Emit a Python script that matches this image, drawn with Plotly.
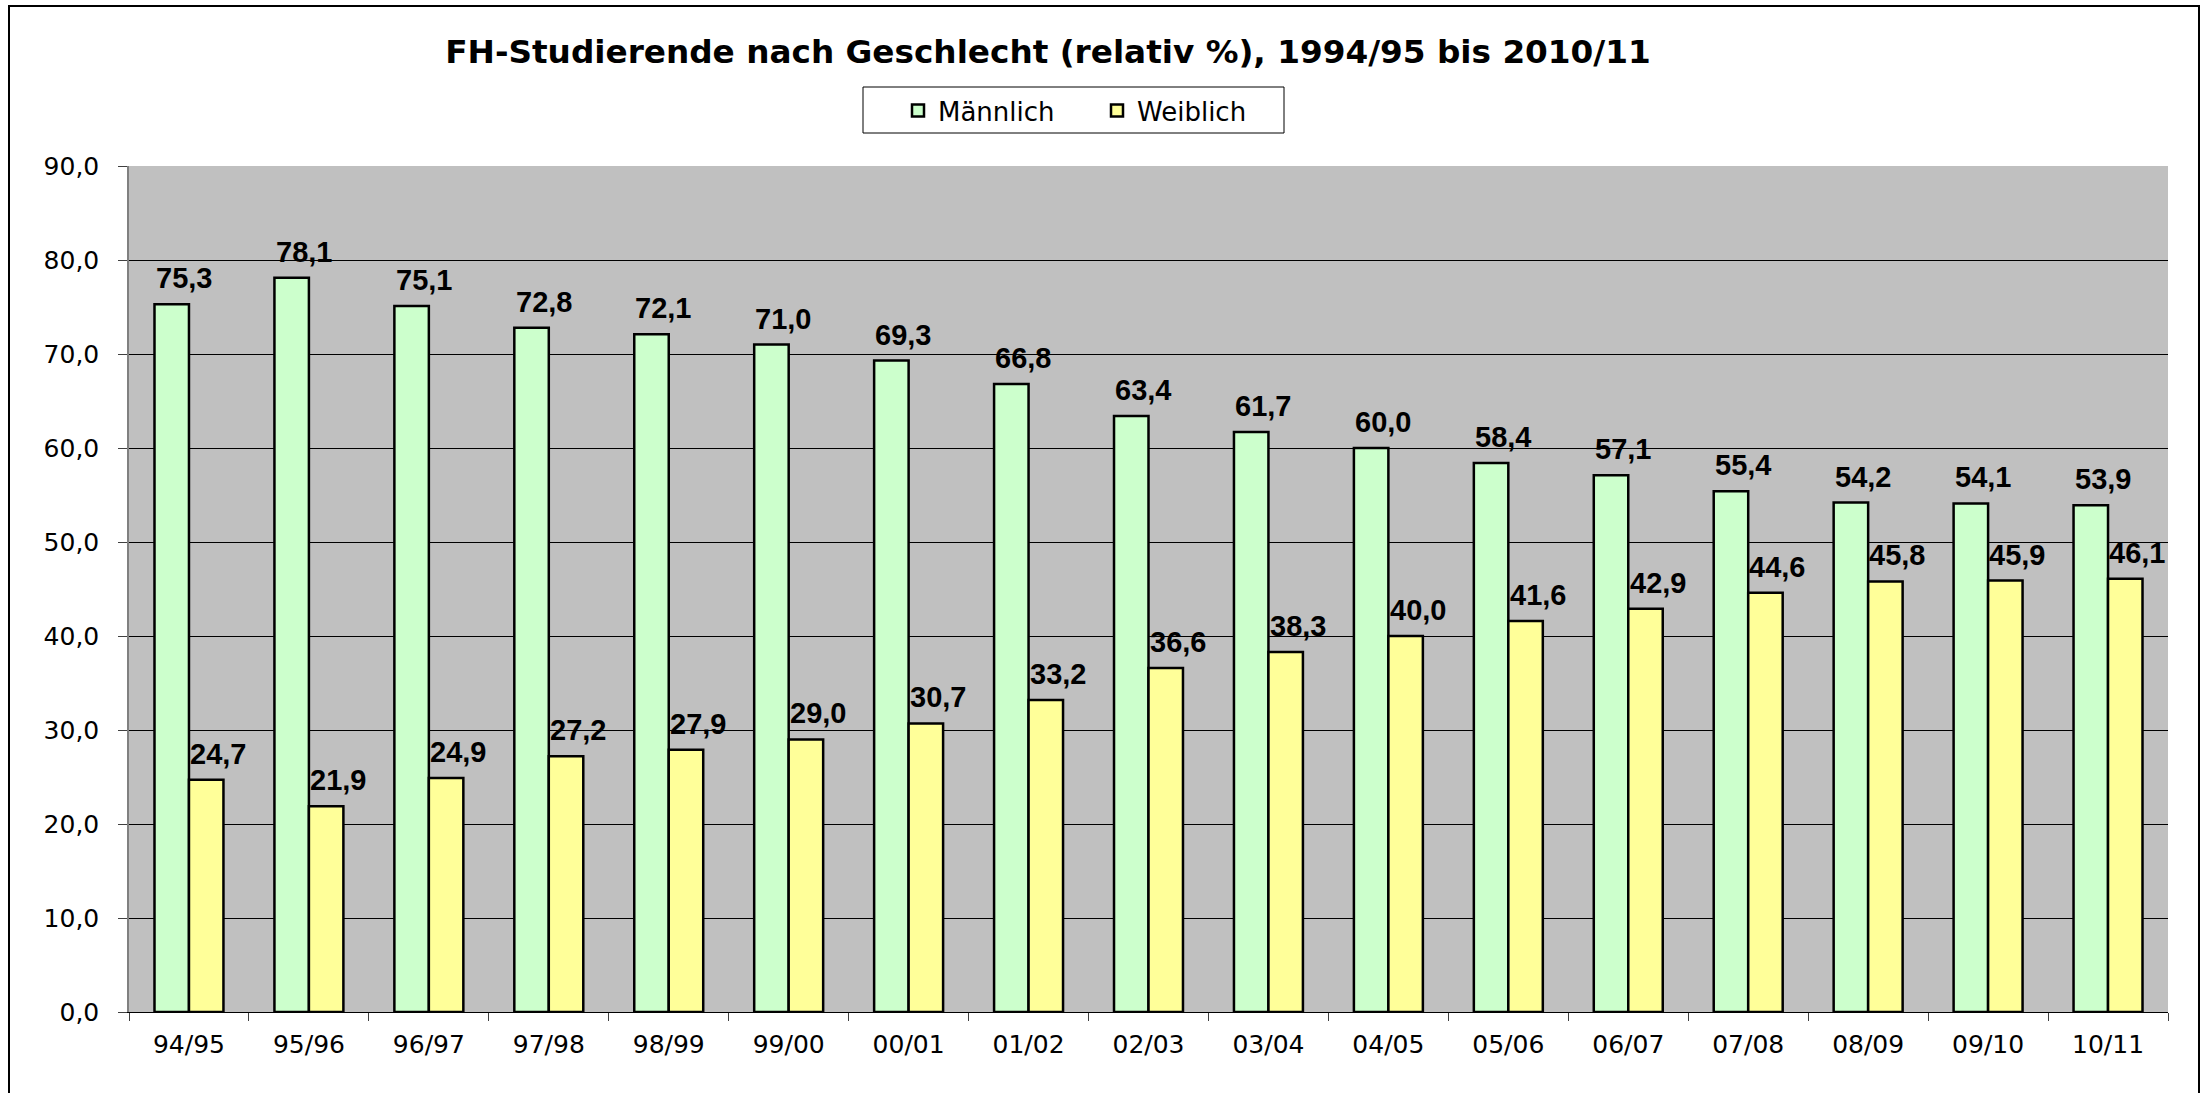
import plotly.graph_objects as go

# ---------------- data ----------------
categories = ["94/95", "95/96", "96/97", "97/98", "98/99", "99/00", "00/01", "01/02", "02/03",
              "03/04", "04/05", "05/06", "06/07", "07/08", "08/09", "09/10", "10/11"]
maennlich = [75.3, 78.1, 75.1, 72.8, 72.1, 71.0, 69.3, 66.8, 63.4, 61.7, 60.0, 58.4, 57.1, 55.4, 54.2, 54.1, 53.9]
weiblich = [24.7, 21.9, 24.9, 27.2, 27.9, 29.0, 30.7, 33.2, 36.6, 38.3, 40.0, 41.6, 42.9, 44.6, 45.8, 45.9, 46.1]
series_names = ["Männlich", "Weiblich"]
title_text = "FH-Studierende nach Geschlecht (relativ %), 1994/95 bis 2010/11"

# ---------------- layout constants (page px) ----------------
W, H = 2206, 1093
PL, PR, PT, PB = 129, 2168, 166, 1012  # plot area edges
L, T, R, B = PL, PT, W - PR, H - PB
plot_w = W - L - R
plot_h = H - T - B
BARGAP = 0.425


def px_x(p):
    return (p - L) / plot_w


def px_y(p):
    return (H - B - p) / plot_h


def fmt(v):
    return f"{v:.1f}".replace(".", ",")


fig = go.Figure()
fig.add_trace(go.Bar(name=series_names[0], x=categories, y=maennlich,
                     marker=dict(color="#CCFFCC", line=dict(color="black", width=2.5))))
fig.add_trace(go.Bar(name=series_names[1], x=categories, y=weiblich,
                     marker=dict(color="#FFFF99", line=dict(color="black", width=2.5))))

# data labels
cat_w = plot_w / len(categories)
bar_w = cat_w * (1 - BARGAP) / 2
annotations = []
for vals, off in ((maennlich, -bar_w / 2), (weiblich, bar_w / 2)):
    for c, v in zip(categories, vals):
        annotations.append(dict(x=c, y=v, xref="x", yref="y", text="<b>" + fmt(v) + "</b>", showarrow=False,
                                xanchor="center", yanchor="bottom", xshift=off + 12, yshift=8,
                                font=dict(family="Liberation Sans, Arial", size=29, color="black")))

shapes = [
    # outer chart border
    dict(type="rect", xref="paper", yref="paper", x0=px_x(9), x1=px_x(2199), y0=px_y(1110), y1=px_y(6),
         line=dict(color="black", width=2), fillcolor="rgba(0,0,0,0)", layer="above"),
    # legend box
    dict(type="rect", xref="paper", yref="paper", x0=px_x(863), x1=px_x(1284), y0=px_y(133), y1=px_y(87),
         line=dict(color="black", width=1), fillcolor="white", layer="below"),
]

fig.update_layout(
    width=W, height=H,
    margin=dict(l=L, r=R, t=T, b=B, pad=0),
    paper_bgcolor="white",
    plot_bgcolor="#C0C0C0",
    barmode="group", bargap=BARGAP, bargroupgap=0,
    separators=",.",
    title=dict(text="<b>" + title_text + "</b>", x=1048 / W, xanchor="center",
               y=1 - 52 / H, yanchor="middle", yref="container",
               font=dict(family="DejaVu Sans", size=32.7, color="black")),
    legend=dict(orientation="h", x=px_x(898), xanchor="left", y=px_y(87), yanchor="top",
                borderwidth=0, bgcolor="rgba(0,0,0,0)",
                font=dict(family="DejaVu Sans", size=26, color="black"),
                entrywidth=154, traceorder="normal"),
    xaxis=dict(type="category", showgrid=False, showline=True, linecolor="black", linewidth=1,
               ticks="outside", tickson="boundaries", ticklen=8, tickcolor="#404040", tickwidth=1,
               tickfont=dict(family="DejaVu Sans", size=25, color="black"), ticklabelstandoff=10),
    yaxis=dict(range=[0, 90], dtick=10, tickformat=".1f", showgrid=True, gridcolor="black", gridwidth=1,
               showline=True, linecolor="#808080", linewidth=1.5, zeroline=False,
               ticks="outside", ticklen=9, tickcolor="#404040", tickwidth=1,
               tickfont=dict(family="DejaVu Sans", size=25, color="black"), ticklabelstandoff=14),
    annotations=annotations,
    shapes=shapes,
    font=dict(family="DejaVu Sans", color="black"),
)

fig.write_html("out.html", config={"displayModeBar": False},
               post_script="document.body.style.margin='0';document.body.style.overflow='hidden';")
